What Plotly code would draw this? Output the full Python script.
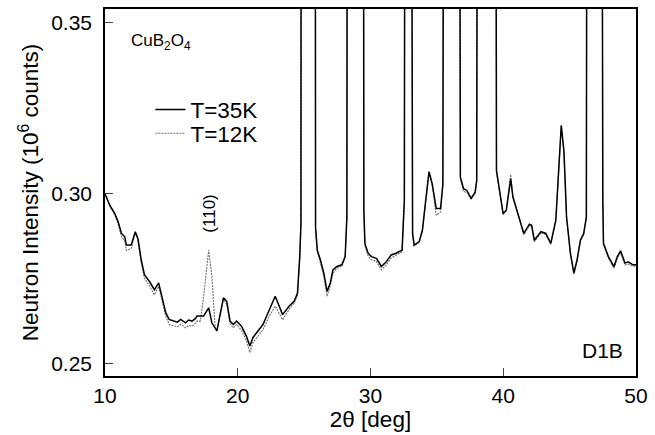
import plotly.graph_objects as go

# 2theta (deg) and intensity (10^6 counts) for T = 35 K
x35 = [10.0, 10.37, 10.74, 10.99, 11.24, 11.49, 11.61, 11.98, 12.28, 12.48, 12.73, 12.97,
       13.35, 13.72, 14.04, 14.28, 14.58, 14.83, 15.2, 15.45, 15.7, 16.07, 16.3, 16.56,
       16.8, 16.94, 17.19, 17.43, 17.81, 18.05, 18.43, 18.92, 19.17, 19.42, 19.67, 19.91,
       20.28, 20.65, 20.91, 21.15, 21.52, 21.9, 22.39, 22.82, 23.38, 23.88, 24.25, 24.5,
       24.67, 24.76, 24.8, 25.82, 25.86, 25.99, 26.23, 26.48, 26.73, 26.97, 27.17, 27.47,
       27.84, 28.09, 28.22, 28.29, 29.42, 29.5, 29.58, 29.82, 30.07, 30.45, 30.82, 31.19,
       31.56, 31.93, 32.38, 32.55, 32.65, 32.98, 33.17, 33.29, 33.67, 33.91, 34.16, 34.41,
       34.65, 34.95, 35.28, 35.45, 35.6, 36.62, 36.77, 37.01, 37.26, 37.58, 37.88, 38.0,
       38.13, 39.37, 39.49, 39.74, 39.99, 40.23, 40.56, 40.73, 41.1, 41.55, 41.97, 42.14,
       42.34, 42.84, 43.21, 43.58, 43.96, 44.2, 44.37, 44.57, 44.77, 45.06, 45.32, 45.56,
       45.81, 46.06, 46.26, 46.36, 47.35, 47.5, 47.55, 47.92, 48.34, 48.59, 48.84, 49.17,
       49.41, 49.78, 50.0]
y35 = [0.2998, 0.2964, 0.2940, 0.2916, 0.2882, 0.2872, 0.2848, 0.2848, 0.2887, 0.2867, 0.2804, 0.2761,
       0.2741, 0.2717, 0.2737, 0.2698, 0.2649, 0.2630, 0.2625, 0.2622, 0.2630, 0.2620, 0.2628, 0.2625,
       0.2632, 0.2640, 0.2640, 0.2640, 0.2664, 0.2620, 0.2596, 0.2693, 0.2683, 0.2625, 0.2615, 0.2625,
       0.2610, 0.2581, 0.2552, 0.2577, 0.2596, 0.2615, 0.2659, 0.2698, 0.2644, 0.2669, 0.2683, 0.2707,
       0.2814, 0.2911, 0.6000, 0.6000, 0.2900, 0.2833, 0.2804, 0.2766, 0.2712, 0.2737, 0.2775, 0.2785,
       0.2790, 0.2814, 0.2930, 0.6000, 0.6000, 0.2950, 0.2852, 0.2824, 0.2814, 0.2809, 0.2785, 0.2799,
       0.2819, 0.2824, 0.2833, 0.2979, 0.6000, 0.6000, 0.2882, 0.2848, 0.2858, 0.2892, 0.2979, 0.3063,
       0.3027, 0.2955, 0.2955, 0.3027, 0.6000, 0.6000, 0.3047, 0.3013, 0.3008, 0.2985, 0.3003, 0.3037,
       0.6000, 0.6000, 0.3066, 0.3008, 0.2940, 0.2950, 0.3042, 0.2988, 0.2940, 0.2882, 0.2909, 0.2906,
       0.2862, 0.2887, 0.2882, 0.2853, 0.2921, 0.3076, 0.3199, 0.3124, 0.2930, 0.2824, 0.2766, 0.2804,
       0.2862, 0.2882, 0.2930, 0.6000, 0.6000, 0.2979, 0.2853, 0.2814, 0.2785, 0.2814, 0.2831, 0.2795,
       0.2799, 0.2790, 0.2790]

# T = 12 K
x12 = [10.0, 10.37, 10.74, 10.99, 11.24, 11.49, 11.61, 11.98, 12.28, 12.48, 12.73, 12.97,
       13.35, 13.72, 14.04, 14.28, 14.58, 14.83, 15.2, 15.45, 15.7, 16.07, 16.3, 16.56,
       16.8, 16.94, 17.19, 17.43, 17.81, 18.05, 18.3, 18.43, 18.92, 19.17, 19.42, 19.67, 19.91,
       20.28, 20.65, 20.91, 21.15, 21.52, 21.9, 22.39, 22.82, 23.38, 23.88, 24.25, 24.5,
       24.67, 24.76, 24.8, 25.82, 25.86, 25.99, 26.23, 26.48, 26.73, 26.97, 27.17, 27.47,
       27.84, 28.09, 28.22, 28.29, 29.42, 29.5, 29.58, 29.82, 30.07, 30.45, 30.82, 31.19,
       31.56, 31.93, 32.38, 32.55, 32.65, 32.98, 33.17, 33.29, 33.67, 33.91, 34.16, 34.41,
       34.65, 34.95, 35.28, 35.45, 35.6, 36.62, 36.77, 37.01, 37.26, 37.58, 37.88, 38.0,
       38.13, 39.37, 39.49, 39.74, 39.99, 40.23, 40.56, 40.73, 41.1, 41.55, 41.97, 42.14,
       42.34, 42.84, 43.21, 43.58, 43.96, 44.2, 44.37, 44.57, 44.77, 45.06, 45.32, 45.56,
       45.81, 46.06, 46.26, 46.36, 47.35, 47.5, 47.55, 47.92, 48.34, 48.59, 48.84, 49.17,
       49.41, 49.78, 50.0]
y12 = [0.2998, 0.2960, 0.2936, 0.2910, 0.2872, 0.2860, 0.2832, 0.2838, 0.2885, 0.2862, 0.2796, 0.2750,
       0.2728, 0.2702, 0.2727, 0.2690, 0.2640, 0.2615, 0.2612, 0.2608, 0.2616, 0.2605, 0.2612, 0.2610,
       0.2618, 0.2625, 0.2625, 0.2698, 0.2833, 0.2756, 0.2606, 0.2598, 0.2688, 0.2675, 0.2618, 0.2605, 0.2615,
       0.2598, 0.2568, 0.2533, 0.2562, 0.2582, 0.2600, 0.2640, 0.2669, 0.2629, 0.2660, 0.2678, 0.2700,
       0.2810, 0.2905, 0.6000, 0.6000, 0.2895, 0.2828, 0.2796, 0.2756, 0.2698, 0.2728, 0.2765, 0.2780,
       0.2786, 0.2810, 0.2925, 0.6000, 0.6000, 0.2945, 0.2846, 0.2816, 0.2805, 0.2800, 0.2775, 0.2790,
       0.2810, 0.2818, 0.2828, 0.2975, 0.6000, 0.6000, 0.2878, 0.2845, 0.2855, 0.2888, 0.2975, 0.3060,
       0.3022, 0.2935, 0.2945, 0.3022, 0.6000, 0.6000, 0.3042, 0.3005, 0.3002, 0.2982, 0.2998, 0.3032,
       0.6000, 0.6000, 0.3062, 0.3005, 0.2938, 0.2950, 0.3055, 0.2992, 0.2938, 0.2878, 0.2905, 0.2900,
       0.2857, 0.2884, 0.2878, 0.2850, 0.2918, 0.3072, 0.3195, 0.3120, 0.2926, 0.2820, 0.2762, 0.2800,
       0.2858, 0.2878, 0.2926, 0.6000, 0.6000, 0.2975, 0.2850, 0.2810, 0.2780, 0.2808, 0.2826, 0.2790,
       0.2792, 0.2786, 0.2786]

x_ticks = [10, 20, 30, 40, 50]
y_ticks = [0.25, 0.30, 0.35]

FONT = "Liberation Sans, Arial, Helvetica, sans-serif"

fig = go.Figure()
fig.add_trace(go.Scatter(x=x12, y=y12, mode="lines", name="T=12K", legend="legend2",
                         line=dict(color="#707070", width=1.1, dash="2px,1px")))
fig.add_trace(go.Scatter(x=x35, y=y35, mode="lines", name="T=35K", legend="legend",
                         line=dict(color="black", width=1.5)))

leg_common = dict(xanchor="left", yanchor="top", bgcolor="rgba(0,0,0,0)",
                  font=dict(size=22.5, family=FONT))

fig.update_layout(
    width=655, height=435,
    margin=dict(l=105, r=12, t=7, b=57),
    paper_bgcolor="white", plot_bgcolor="white",
    font=dict(family=FONT, size=21, color="black"),
    showlegend=True,
    legend=dict(x=0.0855, y=0.784, **leg_common),
    legend2=dict(x=0.0855, y=0.719, **leg_common),
    xaxis=dict(range=[10, 50], tickvals=x_ticks, ticks="inside", ticklen=8,
               tickwidth=1.2, showline=True, linecolor="black", linewidth=1.5,
               mirror=True, showgrid=False, zeroline=False,
               tickfont=dict(size=21),
               title=dict(text="2θ [deg]", font=dict(size=22.5), standoff=5)),
    yaxis=dict(range=[0.2464, 0.354], tickvals=y_ticks, tickformat=".2f",
               ticks="inside", ticklen=8, tickwidth=1.2, showline=True,
               linecolor="black", linewidth=1.5, mirror=True, showgrid=False,
               zeroline=False, tickfont=dict(size=21), ticklabelstandoff=7,
               title=dict(text="Neutron Intensity (10<sup>6</sup> counts)",
                          font=dict(size=22.5), standoff=6)),
    annotations=[
        dict(x=11.78, y=0.3442, xref="x", yref="y", text="CuB<sub>2</sub>O<sub>4</sub>",
             showarrow=False, xanchor="left", yanchor="middle", font=dict(size=17)),
        dict(x=17.86, y=0.2941, xref="x", yref="y", text="(110)", textangle=-90,
             showarrow=False, xanchor="center", yanchor="middle", font=dict(size=17)),
        dict(x=0.98, y=0.07, xref="paper", yref="paper", text="D1B",
             showarrow=False, xanchor="right", yanchor="middle", font=dict(size=21)),
    ],
)

fig.write_html("out.html")
